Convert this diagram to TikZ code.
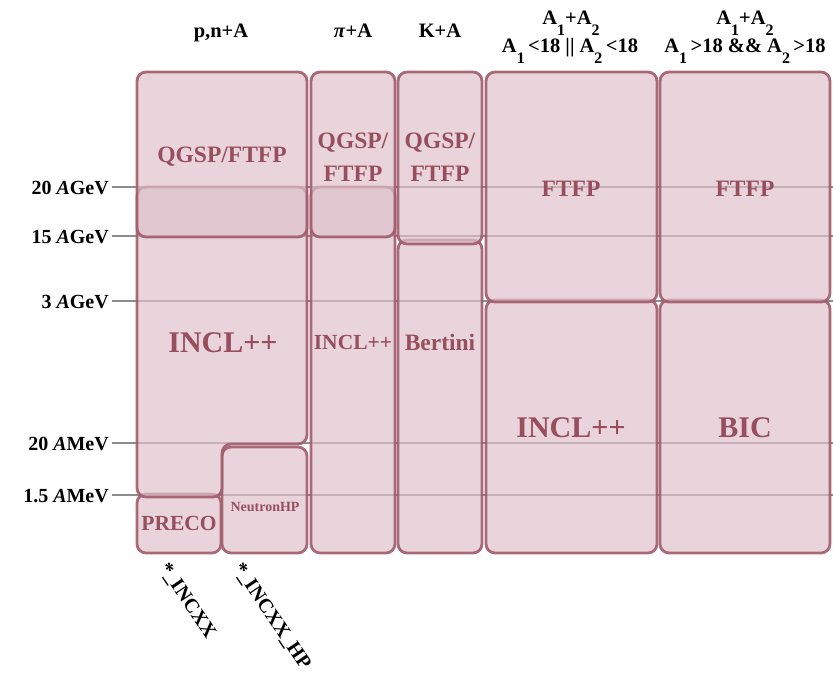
\documentclass[tikz,border=0pt]{standalone}
\usepackage{fontspec}
\setmainfont{Liberation Serif}
\definecolor{boxfill}{RGB}{222,194,202}
\definecolor{boxline}{RGB}{162,92,108}
\definecolor{labtext}{RGB}{152,78,94}
\definecolor{gridgray}{RGB}{140,140,140}
\newcommand\sbs[1]{\raisebox{-0.5em}{\fontsize{16}{16}\selectfont #1}}
\begin{document}
\begin{tikzpicture}[
  x=1pt, y=-1pt,
  box/.style={draw=boxline, line width=2.8pt, fill=boxfill, fill opacity=0.7, draw opacity=0.9, rounded corners=9pt},
  lab/.style={text=labtext, font=\bfseries\fontsize{23.5}{33}\selectfont, align=center, inner sep=0pt},
  mid/.style={lab, font=\bfseries\fontsize{21.5}{33}\selectfont},
  big/.style={lab, font=\bfseries\fontsize{30}{34}\selectfont},
  small/.style={lab, font=\bfseries\fontsize{14}{16}\selectfont},
  hdr/.style={font=\bfseries\fontsize{20.5}{24}\selectfont, anchor=base, inner sep=0pt},
  axl/.style={font=\bfseries\fontsize{20}{24}\selectfont, anchor=base east, inner sep=0pt},
  rot/.style={font=\bfseries\fontsize{20}{24}\selectfont, anchor=west, inner sep=0pt, rotate=-56},
  gridl/.style={draw=gridgray, line width=1.3pt},
]
\useasboundingbox (0,0) rectangle (833,674);

% energy levels
\foreach \yy/\nm/\txt in {187/e1/{20 \textit{A}GeV}, 236/e2/{15 \textit{A}GeV}, 301/e3/{3 \textit{A}GeV}, 443/e4/{20 \textit{A}MeV}, 495/e5/{1.5 \textit{A}MeV}}{
  \node[axl] (\nm) at (109,\yy+7) {\txt};
  \coordinate (\nm s) at (112,\yy);
  \coordinate (\nm e) at (833,\yy);
  \draw[gridl] (\nm s) -- (\nm e);
}

% lower boxes
\path[box] (137,494) rectangle (221,553);
\path[box] (222,447) rectangle (307,553);
\path[box] (137,300) -- (137,187) -- (307,187) -- (307,444) -- (222,444) -- (222,497) -- (137,497) -- cycle;
\path[box] (311,187) rectangle (395,553);
\path[box] (398,240) rectangle (482,553);
\path[box] (486,300) rectangle (657,553);
\path[box] (660,300) rectangle (830,553);
% upper boxes
\path[box] (137,72) rectangle (307,237);
\path[box] (311,72) rectangle (395,237);
\path[box] (398,72) rectangle (482,244);
\path[box] (486,72) rectangle (657,302);
\path[box] (660,72) rectangle (830,302);

% labels in boxes
\node[lab] (pnq) at (222,157) {QGSP/FTFP};
\node[lab] (piq) at (353,157) {QGSP/\\FTFP};
\node[lab] (kq) at (440,157) {QGSP/\\FTFP};
\node[lab] (f4) at (571,189) {FTFP};
\node[lab] (f5) at (745,189) {FTFP};
\node[big] (pni) at (223,343) {INCL++};
\node[mid] (pii) at (353,342) {INCL++};
\node[lab] (kb) at (440,342) {Bertini};
\node[big] (i4) at (571,428) {INCL++};
\node[big] (b5) at (745,428) {BIC};
\node[mid] (pre) at (179,523) {PRECO};
\node[small] (nhp) at (265,507) {NeutronHP};

% headers
\node[hdr] (h1) at (221,38) {p,n+A};
\node[hdr] (h2) at (353,38) {\textit{π}+A};
\node[hdr] (h3) at (440,38) {K+A};
\node[hdr] (h4a) at (571,25) {A\sbs{1}+A\sbs{2}};
\node[hdr] (h4b) at (570,53) {A\sbs{1}\,<18 || A\sbs{2}\,<18};
\node[hdr] (h5a) at (745,25) {A\sbs{1}+A\sbs{2}};
\node[hdr] (h5b) at (745,53) {A\sbs{1}\,>18 \&\& A\sbs{2}\,>18};

% rotated notes
\node[rot] (r1) at (163,565) {*\_INCXX};
\node[rot] (r2) at (237,565) {*\_INCXX\_HP};
\end{tikzpicture}
\end{document}
